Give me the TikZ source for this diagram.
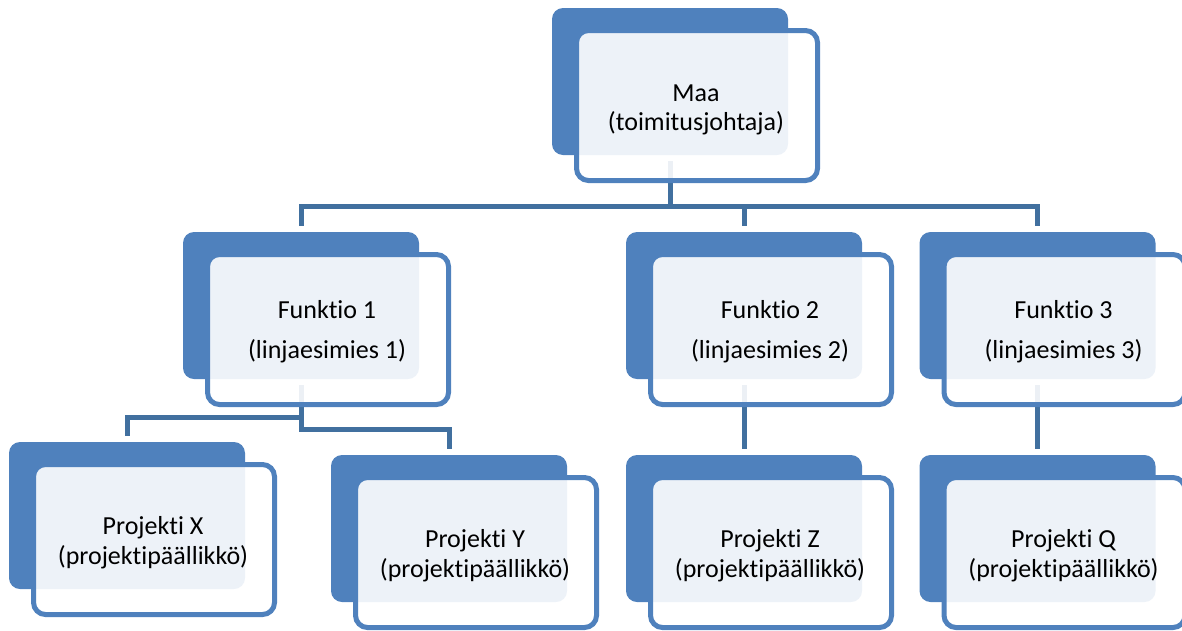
\documentclass[tikz,border=0pt]{standalone}
\usepackage{fontspec}
\setmainfont{Carlito}[Ligatures=NoCommon, RawFeature={-liga;-clig;-calt;-dlig}]
\usetikzlibrary{calc}
\definecolor{boxblue}{HTML}{4F81BD}
\definecolor{linkblue}{HTML}{41709F}
\pgfdeclarelayer{links}
\pgfsetlayers{links,main}
\tikzset{
  backbox/.style={fill=boxblue, rounded corners=11pt, minimum width=236pt,
    minimum height=147pt, inner sep=0pt, outer sep=0pt, anchor=north west},
  frontbox/.style={draw=boxblue, line width=5pt, fill=white, fill opacity=0.9,
    rounded corners=12pt, minimum width=241pt, minimum height=150pt,
    inner sep=0pt, outer sep=0pt, anchor=north west},
  lbl/.style={font=\fontsize{26}{30}\selectfont, inner sep=0pt, anchor=base},
  conn/.style={draw=linkblue, line width=5pt},
}
% #1 name, #2/#3 top-left of the filled box, #4/#5 the two text lines,
% #6/#7 baselines of those lines below the box top
\newcommand\orgunit[7]{%
  \node[backbox] (#1) at (#2,#3) {};
  \node[frontbox] (#1-front) at (#2+24.5,#3+22.5) {};
  \node[lbl] (#1-top) at (#2+144,#3+#6) {#4};
  \node[lbl] (#1-sub) at (#2+144,#3+#7) {#5};
}
\begin{document}
\begin{tikzpicture}[x=1pt, y=-1pt]
  \useasboundingbox (0,0) rectangle (1182,630);

  \orgunit{maa}{552}{8}{Maa}{(toimitusjohtaja)}{93}{122}
  \orgunit{f1}{183}{232}{Funktio 1}{(linjaesimies 1)}{86}{126}
  \orgunit{f2}{626}{232}{Funktio 2}{(linjaesimies 2)}{86}{126}
  \orgunit{f3}{919.5}{232}{Funktio 3}{(linjaesimies 3)}{86}{126}
  \orgunit{px}{9}{442}{Projekti X}{(projektipäällikkö)}{92}{122}
  \orgunit{py}{331}{455}{Projekti Y}{(projektipäällikkö)}{92}{122}
  \orgunit{pz}{626}{455}{Projekti Z}{(projektipäällikkö)}{92}{122}
  \orgunit{pq}{919.5}{455}{Projekti Q}{(projektipäällikkö)}{92}{122}

  \coordinate (bus) at (0,206.5);
  \coordinate (lv1) at (0,417.5);
  \coordinate (lv2) at (0,429.5);

  \begin{pgfonlayer}{links}
    \draw[conn, shorten <=6pt] (maa.south) -- (maa.south |- bus);
    \draw[conn, line cap=rect] (f1.north |- bus) -- (f3.north |- bus);
    \draw[conn, shorten >=6pt] (f1.north |- bus) -- (f1.north);
    \draw[conn, shorten >=6pt] (f2.north |- bus) -- (f2.north);
    \draw[conn, shorten >=6pt] (f3.north |- bus) -- (f3.north);

    \draw[conn, shorten <=6pt, shorten >=6pt]
      (f1.south) -- (f1.south |- lv2) -- (py.north |- lv2) -- (py.north);
    \draw[conn, shorten >=6pt]
      (f1.south |- lv1) -- (px.north |- lv1) -- (px.north);
    \draw[conn, shorten <=6pt, shorten >=6pt] (f2.south) -- (pz.north);
    \draw[conn, shorten <=6pt, shorten >=6pt] (f3.south) -- (pq.north);
  \end{pgfonlayer}
\end{tikzpicture}
\end{document}
